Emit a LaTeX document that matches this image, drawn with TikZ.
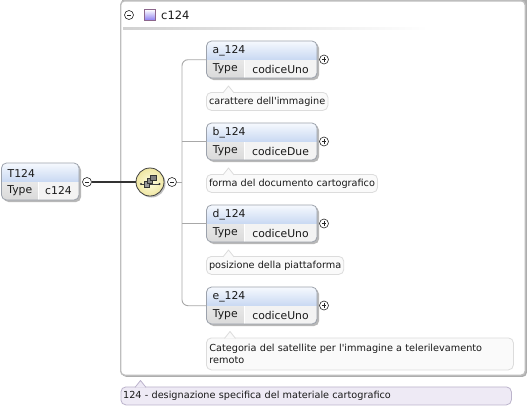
\documentclass[tikz,border=0pt]{standalone}
\usepackage{fontspec}
\setmainfont{DejaVu Sans}
\definecolor{hdtop}{HTML}{F6F9FE}
\definecolor{hdbot}{HTML}{C8D8F2}
\definecolor{tytop}{HTML}{E8E8E8}
\definecolor{tybot}{HTML}{DADADA}
\definecolor{valc}{HTML}{F3F3F3}
\definecolor{boxb}{HTML}{9CA2AC}
\definecolor{docfill}{HTML}{FAFAFA}
\definecolor{docb}{HTML}{DCDCDC}
\definecolor{annfill}{HTML}{EEEAF5}
\definecolor{annb}{HTML}{BCB4CC}
\definecolor{treec}{HTML}{A8A8A8}
\definecolor{outb}{HTML}{BEBEBE}
\definecolor{seqin}{HTML}{FFFDE0}
\definecolor{seqout}{HTML}{EFE6A2}
\newcommand\eltfont{\fontsize{10.8}{13}\selectfont}
\newcommand\docfont{\fontsize{9.7}{11.8}\selectfont}
\tikzset{
  eltext/.style={inner sep=0pt, font=\eltfont, text=black!90},
  doctext/.style={font=\docfont, text=black!90},
  docbox/.style={doctext, draw=docb, fill=docfill, line width=0.8pt, rounded corners=5pt,
     inner xsep=2.6pt, inner ysep=0pt, minimum height=18pt, anchor=north west},
  annbox/.style={docbox, draw=annb, fill=annfill},
  signc/.style={circle, draw=black!85, fill=white, line width=0.6pt, minimum size=9pt, inner sep=0pt},
  treeline/.style={draw=treec, line width=0.9pt, rounded corners=6pt},
  mainline/.style={draw=black!80, line width=1.4pt},
}
% plus / minus circles
\newcommand\xplus[3]{\node[signc] (#1) at (#2,#3) {};
  \draw[black!85, line width=0.6pt] (#2-2.2,#3) -- (#2+2.2,#3) (#2,#3-2.2) -- (#2,#3+2.2);}
\newcommand\xminus[3]{\node[signc] (#1) at (#2,#3) {};
  \draw[black!85, line width=0.6pt] (#2-2.2,#3) -- (#2+2.2,#3);}
% element box: name, x, y, label, type, width, type-cell width
\newcommand\xelem[7]{%
  \fill[black!28, rounded corners=5pt] (#2+2,#3+2) rectangle ++(#6,37);
  \begin{scope}
    \clip[rounded corners=5pt] (#2,#3) rectangle ++(#6,37);
    \shade[top color=hdtop, bottom color=hdbot] (#2,#3) rectangle ++(#6,19);
    \shade[top color=tytop, bottom color=tybot] (#2,#3+19) rectangle ++(#7,18);
    \fill[valc] (#2+#7,#3+19) rectangle (#2+#6,#3+37);
    \draw[white, line width=0.8pt] (#2+#7,#3+19) -- (#2+#7,#3+37);
  \end{scope}
  \draw[boxb, line width=0.8pt, rounded corners=5pt] (#2,#3) rectangle ++(#6,37);
  \node[inner sep=0pt, minimum width=#6, minimum height=37, anchor=north west] (#1) at (#2,#3) {};
  \node[eltext, anchor=west] (#1-name) at (#2+6,#3+10) {#4};
  \node[eltext] (#1-tk) at ({#2+#7/2},{#3+28}) {Type};
  \node[eltext] (#1-tv) at ({#2+(#6+#7)/2},{#3+28}) {#5};
}
% documentation pointer: apex x, box top y
\newcommand\xptr[3]{%
  \filldraw[draw=#3, fill=docfill, line width=0.8pt, line join=round]
    (#1-5.5,#2+0.9) -- (#1,#2-6) -- (#1+5.5,#2+0.9);}
\begin{document}
\begin{tikzpicture}[x=1pt,y=-1pt]
\useasboundingbox (0,0) rectangle (529,410);
\fill[white] (0,0) rectangle (529,410);

% outer group box
\fill[black!32, rounded corners=4pt] (122,-6) rectangle (526.8,376.8);
\draw[outb, fill=white, line width=1.4pt, rounded corners=4pt] (120.7,0.8) rectangle (525.2,375.2);
\xminus{gm}{129}{15}
\shade[top color=white, bottom color=white!80!violet!60!blue, draw=black!50!violet!60, line width=0.6pt]
  (144.5,9.5) rectangle (155.5,20.5);
\node[eltext, anchor=west] (gname) at (161,15) {\fontsize{11.5}{13}\selectfont c124};
\shade[left color=black!18, right color=white] (123,27.3) rectangle (428,29.6);

% T124
\xelem{T}{1.5}{163}{T124}{c124}{77.5}{36.5}
\xminus{tm}{87}{182}

% sequence compositor
\fill[black!25] (151.5,183.5) circle (14);
\node[circle, minimum size=28pt, inner sep=0pt, draw=black!75, line width=0.8pt,
      inner color=seqin, outer color=seqout] (seq) at (150,182) {};
\draw[black!75, line width=0.7pt] (141,184) -- (159.5,184);
\fill[black!80] (141,184) circle (1.2) (159.5,184) circle (1.2);
\draw[fill=black!40, draw=black!80, line width=0.45pt] (143.8,181.5) rectangle (149.3,187);
\draw[fill=black!45, draw=black!80, line width=0.45pt] (147.2,178.2) rectangle (152.7,183.7);
\draw[fill=black!50, draw=black!80, line width=0.45pt] (150.6,174.9) rectangle (156.1,180.4);
\xminus{sm}{172}{182}

\draw[mainline] (tm.east) -- (seq.west);

% children
\xelem{a}{206.5}{41}{a\_124}{codiceUno}{110.5}{37.5}
\xelem{b}{206.5}{123}{b\_124}{codiceDue}{110.5}{37.5}
\xelem{d}{206.5}{205}{d\_124}{codiceUno}{110.5}{37.5}
\xelem{e}{206.5}{287}{e\_124}{codiceUno}{110.5}{37.5}
\xplus{ap}{324}{59.5}
\xplus{bp}{324}{141.5}
\xplus{dp}{324}{223.5}
\xplus{ep}{324}{305.5}

% tree
\coordinate (tr) at (182,182);
\draw[treeline] (a.west) -| (tr) |- (e.west);
\draw[treeline] (b.west) -- (b.west -| tr);
\draw[treeline] (d.west) -- (d.west -| tr);
\draw[treeline] (sm.east) -- (tr);

% documentation
\node[docbox] (ad) at (206,92) {carattere dell\textquotesingle immagine};
\xptr{228.5}{92}{docb}
\node[docbox] (bd) at (206,174) {forma del documento cartografico};
\xptr{228.5}{174}{docb}
\node[docbox] (dd) at (206,256) {posizione della piattaforma};
\xptr{228.5}{256}{docb}
\node[docbox, minimum width=307pt, minimum height=32pt, text width=301pt, align=left]
  (ed) at (206,337.5) {Categoria del satellite per l\textquotesingle immagine a telerilevamento\\remoto};
\xptr{230}{337.5}{docb}

\node[annbox, minimum width=390.5pt, text width=386pt, align=left, inner xsep=2pt]
  (ann) at (120.5,386.5) {124 - designazione specifica del materiale cartografico};
\filldraw[draw=annb, fill=annfill, line width=0.8pt, line join=round]
  (135,387.4) -- (140.5,380.5) -- (146,387.4);
\end{tikzpicture}
\end{document}
